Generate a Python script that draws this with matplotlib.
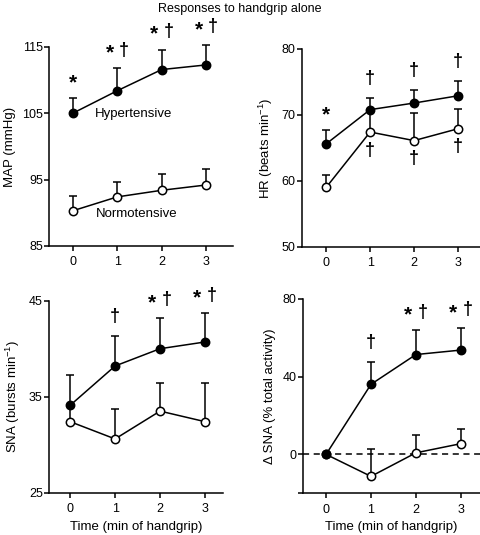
import numpy as np
import matplotlib.pyplot as plt

plt.rcParams['font.family'] = ['Liberation Sans', 'DejaVu Sans']
plt.rcParams['mathtext.fontset'] = 'custom'
plt.rcParams['mathtext.rm'] = 'Liberation Sans'
plt.rcParams['mathtext.it'] = 'Liberation Sans:italic'

# Data (mean and top of the SE bar)
time = [0, 1, 2, 3]

map_hyp = [105.0, 108.4, 111.6, 112.3]
map_hyp_top = [107.3, 111.8, 114.6, 115.3]
map_norm = [90.3, 92.4, 93.4, 94.2]
map_norm_top = [92.5, 94.7, 95.8, 96.6]

hr_hyp = [65.6, 70.8, 71.8, 72.9]
hr_hyp_top = [67.7, 72.5, 73.8, 75.2]
hr_norm = [59.0, 67.4, 66.1, 67.9]
hr_norm_top = [60.9, 70.5, 70.3, 70.9]

sna_hyp = [34.1, 38.2, 40.0, 40.7]
sna_hyp_top = [37.3, 41.3, 43.2, 43.7]
sna_norm = [32.4, 30.6, 33.5, 32.4]
sna_norm_top = [34.0, 33.7, 36.4, 36.4]

dsna_hyp = [0.0, 36.0, 51.3, 53.6]
dsna_hyp_top = [0.0, 47.5, 63.8, 65.0]
dsna_norm = [0.0, -11.3, 0.8, 5.5]
dsna_norm_top = [0.0, 2.6, 10.0, 13.0]

# significance marks: (star, dagger) per time point
map_sig = [(True, False), (True, True), (True, True), (True, True)]
hr_sig = [(True, False), (False, True), (False, True), (False, True)]
hr_sig_norm = [False, True, True, True]
sna_sig = [(False, False), (False, True), (True, True), (True, True)]
dsna_sig = [(False, False), (False, True), (True, True), (True, True)]

fig = plt.figure(figsize=(4.8, 5.35), dpi=100)
fig.text(0.5, 1 - 9 / 535, 'Responses to handgrip alone', ha='center', va='center', fontsize=9)

ax1 = fig.add_axes([49 / 480, 1 - 246 / 535, 184 / 480, 199 / 535])
ax2 = fig.add_axes([302 / 480, 1 - 246.7 / 535, 178 / 480, 197.7 / 535])
ax3 = fig.add_axes([49 / 480, 1 - 492.7 / 535, 174 / 480, 192 / 535])
ax4 = fig.add_axes([302.7 / 480, 1 - 493.3 / 535, 177 / 480, 194.6 / 535])

STAR = 15
DAG = 13


def draw(ax, hyp, hyp_top, norm, norm_top):
    for m, top in [(norm, norm_top), (hyp, hyp_top)]:
        m = np.array(m)
        up = np.array(top) - m
        eb = ax.errorbar(time, m, yerr=[np.zeros_like(up), up], fmt='none', ecolor='black',
                         elinewidth=1.1, capsize=3, capthick=1.1, zorder=2)
        for art in eb.lines[1] + eb.lines[2]:
            art.set_clip_on(False)
    ax.plot(time, norm, color='black', lw=1.1, marker='o', ms=6, mfc='white', mec='black',
            mew=1.1, zorder=3, clip_on=False)
    ax.plot(time, hyp, color='black', lw=1.1, marker='o', ms=6, mfc='black', mec='black',
            mew=1.1, zorder=4, clip_on=False)


def note(ax, s, x, y, dx, dy, size, weight='bold'):
    ax.annotate(s, (x, y), xytext=(dx, dy), textcoords='offset points', ha='center',
                va='center', fontsize=size, fontweight=weight, annotation_clip=False)


def marks(ax, tops, sig):
    for x, y, (star, dag) in zip(time, tops, sig):
        if star and dag:
            note(ax, '*', x, y, -5.5, 11, STAR)
            note(ax, '\u2020', x, y, 5, 13, DAG)
        elif star:
            note(ax, '*', x, y, 0, 11, STAR)
        elif dag:
            note(ax, '\u2020', x, y, 0, 14, DAG)


def style(ax):
    for s in ['top', 'right']:
        ax.spines[s].set_visible(False)
    ax.spines['left'].set_linewidth(1.1)
    ax.spines['bottom'].set_linewidth(1.1)
    ax.tick_params(direction='out', length=3.5, width=1.1, labelsize=9)
    ax.tick_params(axis='y', pad=1)
    ax.tick_params(axis='x', pad=4)
    ax.set_xticks(time)


draw(ax1, map_hyp, map_hyp_top, map_norm, map_norm_top)
marks(ax1, map_hyp_top, map_sig)
ax1.set_xlim(-0.53, 3.6)
ax1.set_ylim(85, 115)
ax1.set_yticks([85, 95, 105, 115])
ax1.set_ylabel('MAP (mmHg)', fontsize=9.5, labelpad=4)
ax1.text(0.5, 104.9, 'Hypertensive', ha='left', va='center', fontsize=9.5)
ax1.text(0.52, 89.8, 'Normotensive', ha='left', va='center', fontsize=9.5)
style(ax1)

draw(ax2, hr_hyp, hr_hyp_top, hr_norm, hr_norm_top)
marks(ax2, hr_hyp_top, hr_sig)
for x, y, d in zip(time, hr_norm, hr_sig_norm):
    if d:
        note(ax2, '\u2020', x, y, 0, -13, DAG)
ax2.set_xlim(-0.55, 3.5)
ax2.set_ylim(50, 80)
ax2.set_yticks([50, 60, 70, 80])
ax2.set_ylabel('HR (beats min$^{-1}$)', fontsize=9.5, labelpad=5)
style(ax2)

draw(ax3, sna_hyp, sna_hyp_top, sna_norm, sna_norm_top)
marks(ax3, sna_hyp_top, sna_sig)
ax3.set_xlim(-0.47, 3.4)
ax3.set_ylim(25, 45)
ax3.set_yticks([25, 35, 45])
ax3.set_ylabel('SNA (bursts min$^{-1}$)', fontsize=9.5, labelpad=5)
ax3.set_xlabel('Time (min of handgrip)', fontsize=9.5, labelpad=4)
style(ax3)

ax4.axhline(0, color='black', lw=1.1, ls=(0, (4, 3)), zorder=1)
draw(ax4, dsna_hyp, dsna_hyp_top, dsna_norm, dsna_norm_top)
marks(ax4, dsna_hyp_top, dsna_sig)
ax4.set_xlim(-0.52, 3.42)
ax4.set_ylim(-20, 80)
ax4.set_yticks([-20, 0, 40, 80])
ax4.set_yticklabels(['', '0', '40', '80'])
ax4.set_ylabel('\u0394 SNA (% total activity)', fontsize=9.5, labelpad=5)
ax4.set_xlabel('Time (min of handgrip)', fontsize=9.5, labelpad=4)
style(ax4)

fig.savefig('out.png', dpi=100)
